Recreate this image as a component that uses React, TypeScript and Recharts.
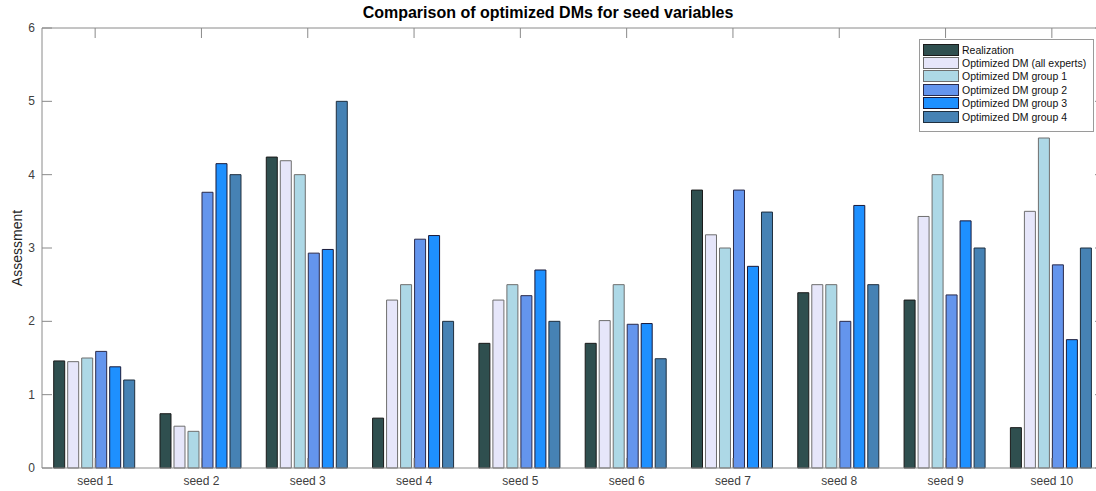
import { BarChart, Bar, XAxis, YAxis, ReferenceLine } from "recharts";

const categories = ["seed 1", "seed 2", "seed 3", "seed 4", "seed 5", "seed 6", "seed 7", "seed 8", "seed 9", "seed 10"];

const realization = [1.46, 0.74, 4.24, 0.68, 1.7, 1.7, 3.79, 2.39, 2.29, 0.55];
const allExperts = [1.45, 0.57, 4.19, 2.29, 2.29, 2.01, 3.18, 2.5, 3.43, 3.5];
const group1 = [1.5, 0.5, 4.0, 2.5, 2.5, 2.5, 3.0, 2.5, 4.0, 4.5];
const group2 = [1.59, 3.76, 2.93, 3.12, 2.35, 1.96, 3.79, 2.0, 2.36, 2.77];
const group3 = [1.38, 4.15, 2.98, 3.17, 2.7, 1.97, 2.75, 3.58, 3.37, 1.75];
const group4 = [1.2, 4.0, 5.0, 2.0, 2.0, 1.49, 3.49, 2.5, 3.0, 3.0];

const yTicks = [0, 1, 2, 3, 4, 5, 6];

const SERIES = [
  { key: "realization", name: "Realization", values: realization, fill: "#2F4F4F", stroke: "#1a1a1a" },
  { key: "allExperts", name: "Optimized DM (all experts)", values: allExperts, fill: "#E6E6FA", stroke: "#6e6e6e" },
  { key: "group1", name: "Optimized DM group 1", values: group1, fill: "#ADD8E6", stroke: "#6e6e6e" },
  { key: "group2", name: "Optimized DM group 2", values: group2, fill: "#6495ED", stroke: "#2a2a4a" },
  { key: "group3", name: "Optimized DM group 3", values: group3, fill: "#1E90FF", stroke: "#1a1a3a" },
  { key: "group4", name: "Optimized DM group 4", values: group4, fill: "#4682B4", stroke: "#1f2f3f" },
];

const data = categories.map((name, i) => {
  const row: Record<string, string | number> = { name };
  SERIES.forEach((s) => (row[s.key] = s.values[i]));
  return row;
});

// plot box (MATLAB style axes)
const PLOT_LEFT = 42;
const PLOT_TOP = 28;
const PLOT_BOTTOM = 468;
const PLOT_RIGHT = 1105;
const CHART_W = 1122;
const CHART_H = 491;
const TICK_LEN = 10;
const AXIS_COLOR = "#8a8a8a";
const TEXT_COLOR = "#404040";
const FONT = "Arial, 'Liberation Sans', Helvetica, sans-serif";

const XTick = (props: any) => {
  const { x, payload } = props;
  return (
    <g>
      <line x1={x} x2={x} y1={PLOT_BOTTOM} y2={PLOT_BOTTOM - TICK_LEN} stroke={AXIS_COLOR} />
      <line x1={x} x2={x} y1={PLOT_TOP} y2={PLOT_TOP + TICK_LEN} stroke={AXIS_COLOR} />
      <text x={x} y={PLOT_BOTTOM + 17} textAnchor="middle" fontSize={12} fill={TEXT_COLOR} fontFamily={FONT}>
        {payload.value}
      </text>
    </g>
  );
};

const YTick = (props: any) => {
  const { y, payload } = props;
  return (
    <g>
      <line x1={PLOT_LEFT} x2={PLOT_LEFT + TICK_LEN} y1={y} y2={y} stroke={AXIS_COLOR} />
      <line x1={PLOT_RIGHT} x2={PLOT_RIGHT - TICK_LEN} y1={y} y2={y} stroke={AXIS_COLOR} />
      <text x={PLOT_LEFT - 7} y={y + 4} textAnchor="end" fontSize={12} fill={TEXT_COLOR} fontFamily={FONT}>
        {payload.value}
      </text>
    </g>
  );
};

const LegendBox = () => (
  <div
    style={{
      position: "absolute",
      left: 919,
      top: 39,
      width: 173,
      height: 88,
      border: "1px solid #9a9a9a",
      background: "#fff",
      fontFamily: FONT,
      fontSize: 10.5,
      color: "#111",
      paddingTop: 3,
      zIndex: 3,
    }}
  >
    {SERIES.map((s) => (
      <div key={s.key} style={{ display: "flex", alignItems: "center", height: 13.4 }}>
        <div
          style={{
            width: 34,
            height: 10,
            marginLeft: 3,
            marginRight: 3,
            background: s.fill,
            border: `1px solid ${s.stroke}`,
          }}
        />
        <span style={{ whiteSpace: "nowrap" }}>{s.name}</span>
      </div>
    ))}
  </div>
);

const App = () => {
  return (
    <div style={{ position: "fixed", left: 0, top: 0, width: 1096, height: 491, overflow: "hidden", background: "#fff" }}>
      <div
        style={{
          position: "absolute",
          left: 0,
          width: 1096,
          top: 4,
          textAlign: "center",
          fontFamily: FONT,
          fontWeight: "bold",
          fontSize: 16,
          color: "#000",
          zIndex: 2,
        }}
      >
        Comparison of optimized DMs for seed variables
      </div>
      <div
        style={{
          position: "absolute",
          left: 17,
          top: 248,
          transform: "translate(-50%, -50%) rotate(-90deg)",
          fontFamily: FONT,
          fontSize: 14,
          color: "#262626",
          whiteSpace: "nowrap",
          zIndex: 2,
        }}
      >
        Assessment
      </div>
      <LegendBox />
      <BarChart
        width={CHART_W}
        height={CHART_H}
        data={data}
        margin={{ top: PLOT_TOP, right: CHART_W - PLOT_RIGHT, bottom: 0, left: 0 }}
        barCategoryGap="11%"
        barGap={3}
      >
        <XAxis
          dataKey="name"
          height={CHART_H - PLOT_BOTTOM}
          axisLine={{ stroke: AXIS_COLOR }}
          tickLine={false}
          tick={<XTick />}
          interval={0}
        />
        <YAxis
          width={PLOT_LEFT}
          domain={[0, 6]}
          ticks={yTicks}
          axisLine={{ stroke: AXIS_COLOR }}
          tickLine={false}
          tick={<YTick />}
        />
        <ReferenceLine y={6} stroke={AXIS_COLOR} ifOverflow="visible" />
        {SERIES.map((s) => (
          <Bar
            key={s.key}
            dataKey={s.key}
            name={s.name}
            fill={s.fill}
            stroke={s.stroke}
            strokeWidth={1}
            isAnimationActive={false}
          />
        ))}
      </BarChart>
    </div>
  );
};

export default App;
